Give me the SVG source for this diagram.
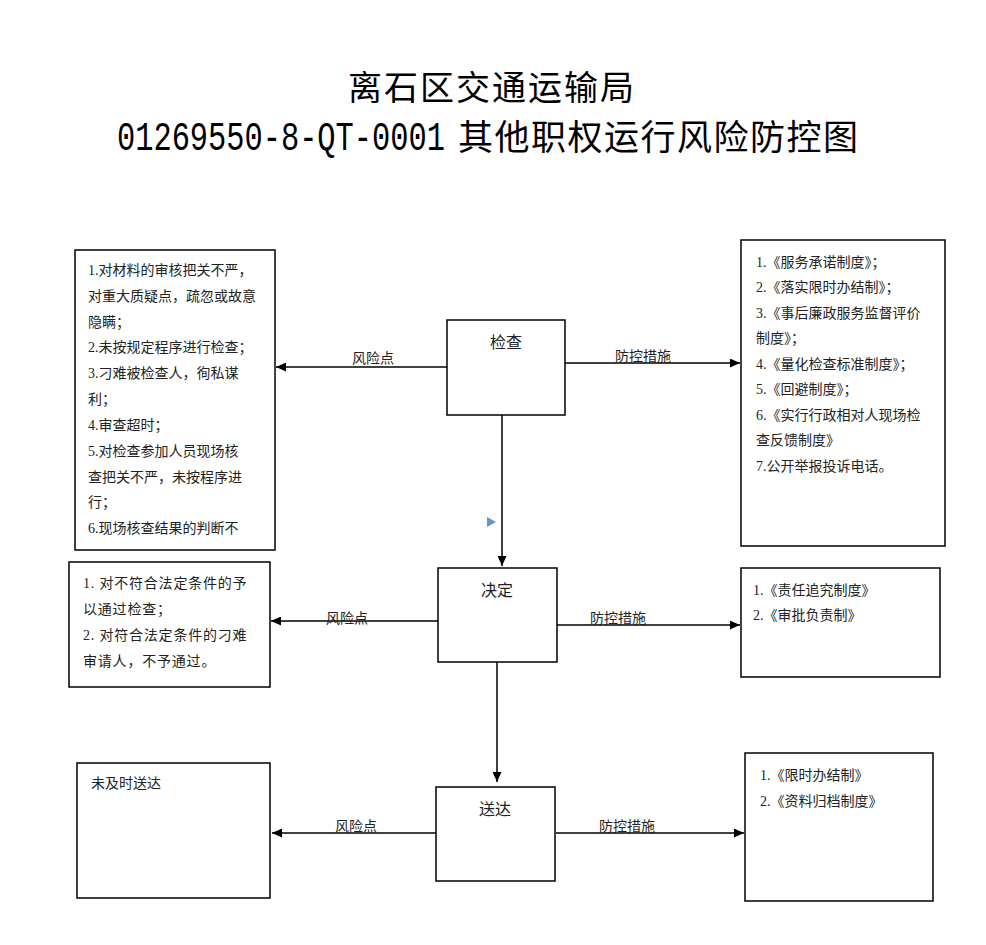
<svg xmlns="http://www.w3.org/2000/svg" width="986" height="945" viewBox="0 0 986 945">
<style>
.box{fill:#fff;stroke:#000;stroke-width:1.5}
.t{font-family:"Liberation Serif","Noto Sans CJK SC",serif;font-size:14px;fill:#222}
.lbl{font-family:"Liberation Serif","Noto Sans CJK SC",serif;font-size:14px;fill:#222;text-anchor:middle}
.node{font-family:"Liberation Serif","Noto Sans CJK SC",serif;font-size:16px;fill:#222;text-anchor:middle}
.title{font-family:"Liberation Serif","Noto Sans CJK SC",serif;fill:#000}
.mono{font-family:"Liberation Mono",monospace;fill:#000;font-size:40px}
.c{fill:none;stroke:#000;stroke-width:1.5}
</style>
<defs>
<marker id="ah" markerUnits="userSpaceOnUse" markerWidth="11" markerHeight="9" refX="10" refY="4.5" orient="auto">
<path d="M0,0 L10,4.5 L0,9 z" fill="#000"/>
</marker>
</defs>
<rect width="986" height="945" fill="#fff"/>
<g id="title">
<text class="title" x="348" y="100" font-size="34" letter-spacing="2">离石区交通运输局</text>
<text class="mono" transform="translate(117,150) scale(0.759,1)" x="0" y="0">01269550-8-QT-0001</text>
<text class="title" x="458" y="150" font-size="35" letter-spacing="1.5">其他职权运行风险防控图</text>
</g>
<g id="connectors">
<line class="c" x1="447" y1="367" x2="276" y2="367" marker-end="url(#ah)"/>
<line class="c" x1="565" y1="363" x2="740" y2="363" marker-end="url(#ah)"/>
<line class="c" x1="502" y1="415" x2="502" y2="566" marker-end="url(#ah)"/>
<line class="c" x1="438" y1="621" x2="271" y2="621" marker-end="url(#ah)"/>
<line class="c" x1="557" y1="625" x2="740" y2="625" marker-end="url(#ah)"/>
<line class="c" x1="497" y1="662" x2="497" y2="782" marker-end="url(#ah)"/>
<line class="c" x1="440" y1="833" x2="272" y2="833" marker-end="url(#ah)"/>
<line class="c" x1="556" y1="833" x2="744" y2="833" marker-end="url(#ah)"/>
<text class="lbl" x="373" y="363">风险点</text>
<text class="lbl" x="643" y="361">防控措施</text>
<text class="lbl" x="347" y="623">风险点</text>
<text class="lbl" x="618" y="623">防控措施</text>
<text class="lbl" x="356" y="831">风险点</text>
<text class="lbl" x="627" y="831">防控措施</text>
<polygon points="487,517 496,522 487,527" fill="#6a93c8"/>
</g>
<g id="node-jiancha">
<rect class="box" x="447" y="320" width="118" height="95"/>
<text class="node" x="506" y="348" font-size="17">检查</text>
</g>
<g id="node-jueding">
<rect class="box" x="438" y="568" width="119" height="94"/>
<text class="node" x="497" y="596">决定</text>
</g>
<g id="node-songda">
<rect class="box" x="436" y="787" width="119" height="94"/>
<text class="node" x="495" y="815">送达</text>
</g>
<g id="risk-jiancha">
<rect class="box" x="75" y="250" width="200" height="300"/>
<text class="t" x="88" y="275">1.对材料的审核把关不严，</text>
<text class="t" x="88" y="301">对重大质疑点，疏忽或故意</text>
<text class="t" x="88" y="327">隐瞒；</text>
<text class="t" x="88" y="352">2.未按规定程序进行检查；</text>
<text class="t" x="88" y="378">3.刁难被检查人，徇私谋</text>
<text class="t" x="88" y="404">利；</text>
<text class="t" x="88" y="430">4.审查超时；</text>
<text class="t" x="88" y="456">5.对检查参加人员现场核</text>
<text class="t" x="88" y="482">查把关不严，未按程序进</text>
<text class="t" x="88" y="507">行；</text>
<text class="t" x="88" y="533">6.现场核查结果的判断不</text>
</g>
<g id="measure-jiancha">
<rect class="box" x="741" y="240" width="204" height="306"/>
<text class="t" x="756" y="267">1.《服务承诺制度》；</text>
<text class="t" x="756" y="292">2.《落实限时办结制》；</text>
<text class="t" x="756" y="318">3.《事后廉政服务监督评价</text>
<text class="t" x="756" y="343">制度》；</text>
<text class="t" x="756" y="369">4.《量化检查标准制度》；</text>
<text class="t" x="756" y="394">5.《回避制度》；</text>
<text class="t" x="756" y="420">6.《实行行政相对人现场检</text>
<text class="t" x="756" y="445">查反馈制度》</text>
<text class="t" x="756" y="471">7.公开举报投诉电话。</text>
</g>
<g id="risk-jueding">
<rect class="box" x="69" y="562" width="201" height="125"/>
<text class="t" x="83" y="588" font-size="15" letter-spacing="0.8">1. 对不符合法定条件的予</text>
<text class="t" x="83" y="614" font-size="15" letter-spacing="0.8">以通过检查；</text>
<text class="t" x="83" y="640" font-size="15" letter-spacing="0.8">2. 对符合法定条件的刁难</text>
<text class="t" x="83" y="666" font-size="15" letter-spacing="0.8">审请人，不予通过。</text>
</g>
<g id="measure-jueding">
<rect class="box" x="741" y="568" width="199" height="109"/>
<text class="t" x="753" y="595">1.《责任追究制度》</text>
<text class="t" x="753" y="620">2.《审批负责制》</text>
</g>
<g id="risk-songda">
<rect class="box" x="77" y="763" width="193" height="135"/>
<text class="t" x="91" y="788">未及时送达</text>
</g>
<g id="measure-songda">
<rect class="box" x="745" y="753" width="188" height="148"/>
<text class="t" x="760" y="780">1.《限时办结制》</text>
<text class="t" x="760" y="806">2.《资料归档制度》</text>
</g>
</svg>
